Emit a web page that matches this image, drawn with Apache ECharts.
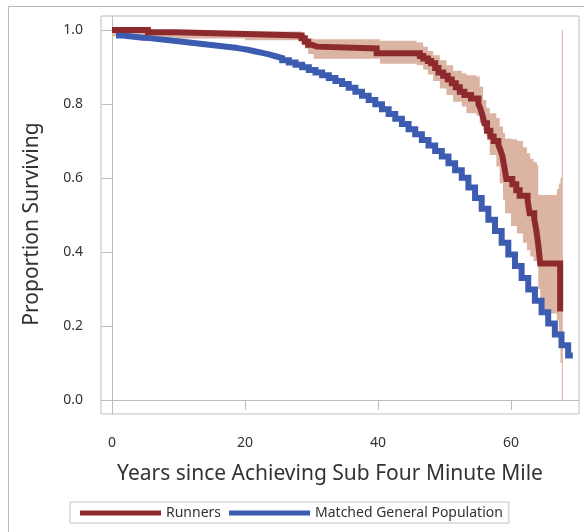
<!DOCTYPE html>
<html>
<head>
<meta charset="utf-8">
<script src="https://cdn.jsdelivr.net/npm/echarts@6/dist/echarts.min.js"></script>
<style>
  html, body { margin: 0; padding: 0; background: #fff; }
  #chart { width: 584px; height: 532px; }
</style>
</head>
<body>
<div id="chart"></div>
<script>
// tick labels
const xTicks = [0, 20, 40, 60]
const yTicks = [0, 0.2, 0.4, 0.6, 0.8, 1.0]

// runners, Kaplan-Meier steps
const runnerYears = [0, 5.4, 9.6, 20.0, 28.5, 29.0, 29.5, 30.0, 30.8, 39.8, 46.3, 46.8, 47.5, 48.0, 48.6, 49.1,
  49.8, 50.5, 51.1, 51.7, 52.3, 53.0, 54.0, 55.1, 55.4, 55.7, 56.0, 56.4, 56.9, 57.4, 58.1, 58.4, 58.7,
  58.9, 59.1, 59.3, 60.2, 60.8, 61.3, 62.5, 62.8, 63.5, 63.8, 64.1, 64.4, 67.4]
const runnerSurv = [1.000, 0.994, 0.989, 0.985, 0.978, 0.968, 0.960, 0.955, 0.950, 0.937, 0.930, 0.923, 0.916, 0.910, 0.897, 0.885,
  0.876, 0.866, 0.856, 0.845, 0.833, 0.824, 0.815, 0.800, 0.788, 0.770, 0.748, 0.728, 0.712, 0.700, 0.690, 0.676, 0.660,
  0.640, 0.620, 0.597, 0.583, 0.567, 0.552, 0.540, 0.505, 0.490, 0.460, 0.420, 0.369, 0.239]

// runners, confidence band (each value holds until the next year in the list)
const bandYears = [0, 5.4, 9.6, 20, 28.5, 29.0, 29.5, 30.3, 40.3, 45.8, 46.8, 47.5, 48.3, 49.3, 50.3, 51.3, 52.6,
  53.3, 54.8, 55.3, 55.8, 56.3, 56.8, 57.8, 58.3, 58.8, 59.1, 60.0, 60.9, 61.8, 62.4, 62.9, 63.4, 63.9,
  64.1, 64.4, 66.9, 67.2, 67.45, 67.65, 67.8]
const bandLower = [0.983, 0.980, 0.977, 0.972, 0.965, 0.950, 0.935, 0.922, 0.909, 0.905, 0.893, 0.880, 0.862, 0.842, 0.824, 0.806, 0.793,
  0.775, 0.768, 0.748, 0.730, 0.712, 0.662, 0.631, 0.586, 0.541, 0.505, 0.470, 0.450, 0.425, 0.405, 0.388, 0.375, 0.365,
  0.300, 0.234, 0.215, 0.160, 0.100, 0.000, 0.000]
const bandUpper = [1.000, 1.000, 0.998, 0.996, 0.991, 0.982, 0.977, 0.975, 0.971, 0.966, 0.955, 0.943, 0.932, 0.918, 0.905, 0.890, 0.883,
  0.878, 0.874, 0.847, 0.811, 0.790, 0.775, 0.762, 0.739, 0.722, 0.707, 0.705, 0.700, 0.683, 0.667, 0.652, 0.643, 0.635,
  0.555, 0.554, 0.570, 0.585, 0.600, 1.000, 1.000]

// matched general population
const popYears = [0.6, 1.6, 2.6, 3.6, 4.6, 5.6, 6.6, 7.6, 8.6, 9.6, 10.6, 11.6, 12.6, 13.6, 14.6, 15.6, 16.6, 17.6,
  18.6, 19.6, 20.6, 21.6, 22.6, 23.6, 24.6, 25.6, 26.6, 27.6, 28.6, 29.6, 30.6, 31.6, 32.6, 33.6, 34.6,
  35.6, 36.6, 37.6, 38.6, 39.6, 40.6, 41.6, 42.6, 43.6, 44.6, 45.6, 46.6, 47.6, 48.6, 49.6, 50.6, 51.6,
  52.6, 53.6, 54.6, 55.6, 56.6, 57.6, 58.6, 59.6, 60.6, 61.6, 62.6, 63.6, 64.6, 65.6, 66.6, 67.6, 68.6, 69.3]
const popSurv = [0.985, 0.983, 0.981, 0.979, 0.978, 0.976, 0.974, 0.972, 0.970, 0.968, 0.966, 0.964, 0.962, 0.960, 0.958, 0.956, 0.954, 0.952,
  0.949, 0.946, 0.942, 0.938, 0.934, 0.929, 0.924, 0.918, 0.912, 0.906, 0.899, 0.892, 0.885, 0.878, 0.870, 0.862, 0.854,
  0.844, 0.833, 0.822, 0.811, 0.799, 0.786, 0.773, 0.760, 0.746, 0.732, 0.718, 0.703, 0.688, 0.673, 0.658, 0.640, 0.621,
  0.601, 0.574, 0.546, 0.517, 0.487, 0.457, 0.425, 0.393, 0.362, 0.330, 0.299, 0.268, 0.237, 0.207, 0.177, 0.148, 0.120, 0.120]

const RED = '#8c2a2e'
const BLUE = '#3b5cb0'
const BAND = '#dcb4a4'
const AXIS = '#bdbdbd'
const FONT = 'Noto Sans'

const zip = (xs, ys) => xs.map((x, i) => [x, ys[i]])

// the band as one stepped polygon: upper edge left to right, lower edge back
function renderBand(params, api) {
  if (params.dataIndex !== 0) return null
  const n = bandYears.length
  const pts = []
  for (let i = 0; i < n - 1; i++) {
    pts.push(api.coord([bandYears[i], bandUpper[i]]))
    pts.push(api.coord([bandYears[i + 1], bandUpper[i]]))
  }
  for (let i = n - 2; i >= 0; i--) {
    pts.push(api.coord([bandYears[i + 1], bandLower[i]]))
    pts.push(api.coord([bandYears[i], bandLower[i]]))
  }
  return {
    type: 'polygon',
    shape: { points: pts },
    style: { fill: BAND },
    silent: true
  }
}

const chart = echarts.init(document.getElementById('chart'))

const option = {
  animation: false,
  textStyle: { fontFamily: FONT },
  graphic: [
    {
      type: 'rect',
      shape: { x: 8.5, y: 6.5, width: 700, height: 700 },
      style: { fill: 'none', stroke: '#b8b8b8', lineWidth: 1 },
      silent: true,
      z: -10
    }
  ],
  grid: {
    left: 101,
    right: 5,
    top: 16,
    bottom: 118,
    show: true,
    borderColor: AXIS,
    borderWidth: 1
  },
  legend: {
    data: ['Runners', 'Matched General Population'],
    left: 70,
    top: 502,
    padding: [4, 6, 3, 10],
    borderColor: '#c4c4c4',
    borderWidth: 1,
    itemWidth: 81,
    itemHeight: 5,
    itemGap: 8,
    icon: 'rect',
    textStyle: { fontFamily: FONT, fontSize: 14, color: '#333' }
  },
  xAxis: {
    type: 'value',
    min: -1.654,
    max: 70.23,
    name: 'Years since Achieving Sub Four Minute Mile',
    nameLocation: 'middle',
    nameGap: 50,
    nameTextStyle: { fontFamily: FONT, fontSize: 21, color: '#333', padding: [0, 20, 0, 0] },
    axisLine: { show: true, lineStyle: { color: AXIS } },
    axisTick: { show: true, length: 10, customValues: xTicks, lineStyle: { color: AXIS } },
    axisLabel: { customValues: xTicks, margin: 22, fontSize: 14, color: '#333', fontFamily: FONT },
    splitLine: { show: false }
  },
  yAxis: {
    type: 'value',
    min: -0.0378,
    max: 1.0378,
    name: 'Proportion Surviving',
    nameLocation: 'middle',
    nameGap: 58,
    nameRotate: 90,
    nameTextStyle: { fontFamily: FONT, fontSize: 21, color: '#333', padding: [0, 18, 0, 0] },
    axisLine: { show: true, lineStyle: { color: AXIS } },
    axisTick: { show: true, length: 10, customValues: yTicks, lineStyle: { color: AXIS } },
    axisLabel: {
      customValues: yTicks,
      margin: 18,
      fontSize: 14,
      color: '#333',
      fontFamily: FONT,
      formatter: v => v.toFixed(1)
    },
    splitLine: { show: false }
  },
  series: [
    {
      name: 'band',
      type: 'custom',
      renderItem: renderBand,
      encode: { x: 0, y: [1, 2] },
      data: zip(bandYears, bandLower).map((d, i) => [d[0], d[1], bandUpper[i]]),
      silent: true,
      z: 1
    },
    {
      name: 'Matched General Population',
      type: 'line',
      step: 'end',
      symbol: 'none',
      color: BLUE,
      lineStyle: { color: BLUE, width: 6, join: 'miter', cap: 'butt' },
      data: zip(popYears, popSurv),
      z: 3
    },
    {
      name: 'Runners',
      type: 'line',
      step: 'end',
      symbol: 'none',
      color: RED,
      lineStyle: { color: RED, width: 6, join: 'miter', cap: 'butt' },
      data: zip(runnerYears, runnerSurv),
      z: 4
    }
  ]
}

chart.setOption(option)
</script>
</body>
</html>
